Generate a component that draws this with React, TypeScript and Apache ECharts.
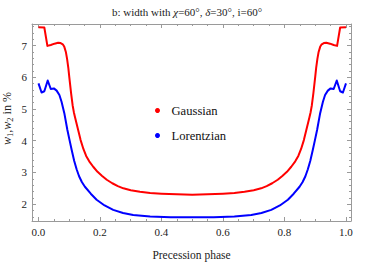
import React, { useEffect, useRef } from "react";
import * as echarts from "echarts";

const phaseGauss = [0, 0.019, 0.029, 0.04, 0.052, 0.064, 0.072, 0.079, 0.084, 0.089, 0.093, 0.097, 0.1, 0.106, 0.111, 0.115, 0.119, 0.129, 0.137, 0.146, 0.155, 0.165, 0.178, 0.192, 0.207, 0.222, 0.24, 0.258, 0.276, 0.3, 0.33, 0.363, 0.4, 0.45, 0.5, 0.55, 0.6, 0.637, 0.67, 0.7, 0.724, 0.742, 0.76, 0.778, 0.793, 0.808, 0.822, 0.835, 0.845, 0.854, 0.863, 0.871, 0.881, 0.885, 0.889, 0.894, 0.9, 0.903, 0.907, 0.911, 0.916, 0.921, 0.928, 0.936, 0.948, 0.96, 0.971, 0.981, 1.0];
const gaussian = [7.58, 7.57, 6.99, 7.02, 7.06, 7.09, 7.08, 7.04, 6.96, 6.8, 6.58, 6.3, 6.02, 5.5, 5.12, 4.9, 4.73, 4.34, 4.02, 3.74, 3.52, 3.35, 3.18, 3.02, 2.89, 2.77, 2.66, 2.57, 2.5, 2.44, 2.39, 2.35, 2.33, 2.31, 2.3, 2.31, 2.33, 2.35, 2.39, 2.44, 2.5, 2.57, 2.66, 2.77, 2.89, 3.02, 3.18, 3.35, 3.52, 3.74, 4.02, 4.34, 4.73, 4.9, 5.12, 5.5, 6.02, 6.3, 6.58, 6.8, 6.96, 7.04, 7.08, 7.09, 7.06, 7.02, 6.99, 7.57, 7.58];

const phaseLorentz = [0, 0.01, 0.019, 0.03, 0.04, 0.05, 0.059, 0.068, 0.075, 0.084, 0.094, 0.101, 0.108, 0.116, 0.124, 0.132, 0.141, 0.151, 0.17, 0.189, 0.215, 0.243, 0.275, 0.308, 0.363, 0.43, 0.5, 0.57, 0.637, 0.692, 0.725, 0.757, 0.785, 0.811, 0.83, 0.849, 0.859, 0.868, 0.876, 0.884, 0.892, 0.899, 0.906, 0.916, 0.925, 0.932, 0.941, 0.95, 0.96, 0.97, 0.981, 0.99, 1.0];
const lorentzian = [5.81, 5.52, 5.56, 5.9, 5.63, 5.65, 5.58, 5.44, 5.23, 4.87, 4.34, 4.02, 3.71, 3.37, 3.1, 2.88, 2.7, 2.55, 2.33, 2.14, 1.96, 1.82, 1.72, 1.66, 1.61, 1.59, 1.59, 1.59, 1.61, 1.66, 1.72, 1.82, 1.96, 2.14, 2.33, 2.55, 2.7, 2.88, 3.1, 3.37, 3.71, 4.02, 4.34, 4.87, 5.23, 5.44, 5.58, 5.65, 5.63, 5.9, 5.56, 5.52, 5.81];

const xMajorTicks = [0, 0.2, 0.4, 0.6, 0.8, 1.0];
const xMinorTicks = [0.05, 0.1, 0.15, 0.25, 0.3, 0.35, 0.45, 0.5, 0.55, 0.65, 0.7, 0.75, 0.85, 0.9, 0.95];
const yMajorTicks = [2, 3, 4, 5, 6, 7];
const yMinorTicks = [1.6, 1.8, 2.2, 2.4, 2.6, 2.8, 3.2, 3.4, 3.6, 3.8, 4.2, 4.4, 4.6, 4.8, 5.2, 5.4, 5.6, 5.8, 6.2, 6.4, 6.6, 6.8, 7.2, 7.4, 7.6];

const X_MIN = -0.0211;
const X_MAX = 1.0163;
const Y_MIN = 1.47;
const Y_MAX = 7.68;

const FONT = "Liberation Serif, serif";
const FRAME = "#9a9a9a";

function xAxisDef(position: "bottom" | "top", ticks: number[], major: boolean, labels: boolean) {
  return {
    type: "value",
    position,
    min: X_MIN,
    max: X_MAX,
    splitLine: { show: false },
    axisLine: { show: major, onZero: false, lineStyle: { color: FRAME, width: 1 } },
    axisTick: {
      show: true,
      inside: true,
      length: major ? 4 : 2,
      customValues: ticks,
      lineStyle: { color: FRAME, width: 1 },
    },
    axisLabel: labels
      ? {
          show: true,
          customValues: ticks,
          formatter: (v: number) => v.toFixed(1),
          color: "#222",
          fontFamily: FONT,
          fontSize: 11,
          margin: 5,
        }
      : { show: false },
    ...(labels
      ? {
          name: "Precession phase",
          nameLocation: "middle",
          nameGap: 28,
          nameMoveOverlap: false,
          nameTextStyle: { color: "#222", fontFamily: FONT, fontSize: 11.5 },
        }
      : {}),
  };
}

function yAxisDef(position: "left" | "right", ticks: number[], major: boolean, labels: boolean) {
  return {
    type: "value",
    position,
    min: Y_MIN,
    max: Y_MAX,
    splitLine: { show: false },
    axisLine: { show: major, onZero: false, lineStyle: { color: FRAME, width: 1 } },
    axisTick: {
      show: true,
      inside: true,
      length: major ? 4 : 2,
      customValues: ticks,
      lineStyle: { color: FRAME, width: 1 },
    },
    axisLabel: labels
      ? {
          show: true,
          customValues: ticks,
          formatter: (v: number) => String(Math.round(v)),
          color: "#222",
          fontFamily: FONT,
          fontSize: 11,
          margin: 5,
        }
      : { show: false },
    ...(labels
      ? {
          name: "{i|w}{s|1}{n|,}{i|w}{s|2}{n| in %}",
          nameLocation: "middle",
          nameRotate: 90,
          nameGap: 18,
          nameMoveOverlap: false,
          nameTextStyle: {
            color: "#222",
            fontFamily: FONT,
            fontSize: 12,
            padding: [0, 0, 0, 8],
            rich: {
              i: { fontFamily: FONT, fontSize: 12, fontStyle: "italic", color: "#222", lineHeight: 15, verticalAlign: "middle" },
              n: { fontFamily: FONT, fontSize: 12, color: "#222", lineHeight: 15, verticalAlign: "middle" },
              s: { fontFamily: FONT, fontSize: 8.5, color: "#222", lineHeight: 8, verticalAlign: "bottom" },
            },
          },
        }
      : {}),
  };
}

export default function App() {
  const ref = useRef<HTMLDivElement>(null);
  useEffect(() => {
    if (!ref.current) return;
    const chart = echarts.init(ref.current, undefined, { renderer: "svg" });
    chart.setOption({
      animation: false,
      backgroundColor: "#ffffff",
      textStyle: { fontFamily: FONT },
      title: {
        text: "{n|b: width with }{i|χ}{n|=60°, }{i|δ}{n|=30°, i=60°}",
        left: "center",
        top: 1,
        textStyle: {
          fontFamily: FONT,
          fontWeight: "normal",
          fontSize: 11,
          rich: {
            n: { fontFamily: FONT, fontWeight: "normal", fontSize: 11, color: "#222" },
            i: { fontFamily: FONT, fontWeight: "normal", fontSize: 11, fontStyle: "italic", color: "#222" },
          },
        },
      },
      grid: { left: 32, right: 23, top: 24, bottom: 43, containLabel: false, outerBoundsMode: "none" },
      legend: {
        orient: "vertical",
        left: 150,
        top: 99,
        itemGap: 12,
        itemWidth: 18,
        itemHeight: 5,
        data: [
          { name: "Gaussian", icon: "circle" },
          { name: "Lorentzian", icon: "circle" },
        ],
        textStyle: { fontFamily: FONT, fontSize: 12.6, color: "#111" },
      },
      xAxis: [
        xAxisDef("bottom", xMajorTicks, true, true),
        xAxisDef("bottom", xMinorTicks, false, false),
        xAxisDef("top", xMajorTicks, true, false),
        xAxisDef("top", xMinorTicks, false, false),
      ],
      yAxis: [
        yAxisDef("left", yMajorTicks, true, true),
        yAxisDef("left", yMinorTicks, false, false),
        yAxisDef("right", yMajorTicks, true, false),
        yAxisDef("right", yMinorTicks, false, false),
      ],
      series: [
        {
          name: "Gaussian",
          type: "line",
          xAxisIndex: 0,
          yAxisIndex: 0,
          showSymbol: false,
          symbol: "circle",
          smooth: false,
          color: "#ff0000",
          lineStyle: { color: "#ff0000", width: 2, join: "round" },
          data: phaseGauss.map((p, i) => [p, gaussian[i]]),
        },
        {
          name: "Lorentzian",
          type: "line",
          xAxisIndex: 0,
          yAxisIndex: 0,
          showSymbol: false,
          symbol: "circle",
          smooth: false,
          color: "#0000ff",
          lineStyle: { color: "#0000ff", width: 2, join: "round" },
          data: phaseLorentz.map((p, i) => [p, lorentzian[i]]),
        },
      ],
    });
    return () => chart.dispose();
  }, []);
  return (
    <div
      ref={ref}
      style={{ position: "fixed", left: 0, top: 0, width: 374, height: 264, background: "#fff" }}
    />
  );
}
